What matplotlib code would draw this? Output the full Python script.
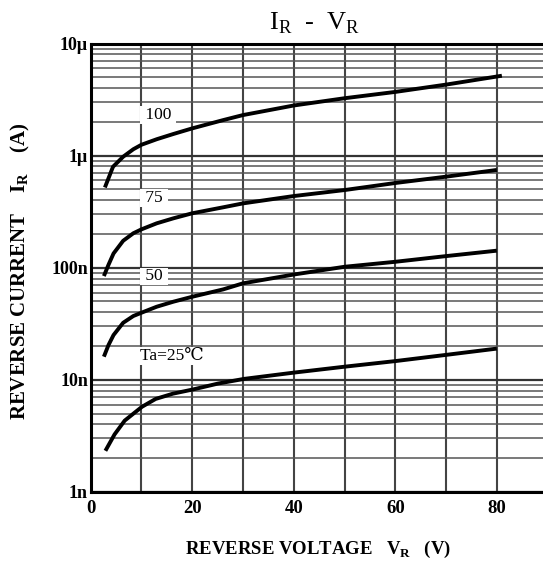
import numpy as np
import matplotlib
matplotlib.use("Agg")
import matplotlib.pyplot as plt
from matplotlib.ticker import FixedLocator, LogLocator, NullFormatter

plt.rcParams['font.family'] = ['Liberation Serif', 'DejaVu Serif']
plt.rcParams['mathtext.fontset'] = 'custom'
plt.rcParams['mathtext.rm'] = 'Liberation Serif'
plt.rcParams['mathtext.bf'] = 'Liberation Serif:bold'

# curves: reverse voltage (V) vs reverse current (A)
v_100 = [2.8, 4.4, 6.4, 8.4, 10, 13, 16.3, 20, 26.2, 30, 40, 50, 60, 70, 81]
i_100 = [5.2e-7, 7.96e-7, 9.78e-7, 1.14e-6, 1.25e-6, 1.40e-6, 1.56e-6, 1.75e-6,
         2.08e-6, 2.3e-6, 2.8e-6, 3.25e-6, 3.7e-6, 4.3e-6, 5.16e-6]

v_75 = [2.6, 3.5, 4.5, 6.4, 8.4, 10, 13, 16.3, 20, 26.1, 30, 40, 50, 60, 70, 80]
i_75 = [8.43e-8, 1.06e-7, 1.34e-7, 1.74e-7, 2.03e-7, 2.2e-7, 2.49e-7, 2.76e-7,
        3.06e-7, 3.46e-7, 3.75e-7, 4.36e-7, 4.93e-7, 5.7e-7, 6.49e-7, 7.45e-7]

v_50 = [2.6, 3.5, 4.5, 6.4, 8.4, 10, 13, 16.3, 20, 26.1, 30, 40, 50, 60, 70, 80]
i_50 = [1.61e-8, 2.04e-8, 2.51e-8, 3.23e-8, 3.71e-8, 3.97e-8, 4.49e-8, 4.98e-8,
        5.51e-8, 6.41e-8, 7.26e-8, 8.7e-8, 1.02e-7, 1.13e-7, 1.27e-7, 1.42e-7]

v_25 = [2.9, 4.7, 6.7, 10.1, 12.8, 16.2, 20.1, 25.1, 30.2, 40, 50, 60, 70, 80]
i_25 = [2.33e-9, 3.26e-9, 4.33e-9, 5.75e-9, 6.76e-9, 7.53e-9, 8.2e-9, 9.27e-9,
        1.02e-8, 1.16e-8, 1.31e-8, 1.47e-8, 1.67e-8, 1.9e-8]

curve_labels = ["100", "75", "50", "Ta=25\u2103"]
label_pos = [(13.3, 2.3e-6), (12.5, 4.2e-7), (12.5, 8.4e-8), (16.0, 1.63e-8)]

y_ticks = [1e-9, 1e-8, 1e-7, 1e-6, 1e-5]
y_ticklabels = ["1n", "10n", "100n", "1\u03bc", "10\u03bc"]
x_ticks = [0, 20, 40, 60, 80]

fig = plt.figure(figsize=(5.43, 5.71), dpi=100)
ax = fig.add_axes([0.167, 0.1384, 0.833, 0.7854])

ax.set_yscale("log")
ax.set_xlim(0, 89.1)
ax.set_ylim(1e-9, 1e-5)

# grid like the datasheet paper
ax.yaxis.set_minor_locator(LogLocator(base=10, subs=np.arange(2, 10)))
ax.yaxis.set_minor_formatter(NullFormatter())
ax.xaxis.set_minor_locator(FixedLocator(np.arange(10, 90, 20)))
ax.grid(True, which="major", axis="y", color="#333333", lw=1.6)
ax.grid(True, which="minor", axis="y", color="#555555", lw=1.1)
ax.grid(True, which="both", axis="x", color="#444444", lw=1.5)

for v, i in [(v_100, i_100), (v_75, i_75), (v_50, i_50), (v_25, i_25)]:
    ax.plot(v, i, color="black", lw=2.8, solid_capstyle="butt", zorder=4)

for text, (x, y) in zip(curve_labels, label_pos):
    ax.text(x, y, " " + text + " ", ha="center", va="center", fontsize=12.5, zorder=5,
            bbox=dict(facecolor="white", edgecolor="none", pad=0.5))

ax.set_yticks(y_ticks)
ax.set_yticklabels(y_ticklabels, fontsize=13, fontweight="bold")
ax.set_xticks(x_ticks)
ax.set_xticklabels([str(x) for x in x_ticks], fontsize=13.5, fontweight="bold")
ax.tick_params(axis="y", which="both", length=0, pad=2)
ax.tick_params(axis="x", which="both", length=0, pad=6)

for s in ["left", "top", "bottom"]:
    ax.spines[s].set_linewidth(2.2)
ax.spines["right"].set_visible(False)

fig.text(0.58, 0.949, r"I$_{\rm R}$  -  V$_{\rm R}$", ha="center", va="baseline", fontsize=19)
fig.text(0.586, 0.037, r"REVERSE VOLTAGE   V$_{\bf R}$   (V)", ha="center", va="center",
         fontsize=13.5, fontweight="bold")
fig.text(0.037, 0.525, r"REVERSE CURRENT    I$_{\bf R}$    (A)", ha="center", va="center",
         rotation=90, fontsize=15, fontweight="bold")

fig.savefig("out.png", dpi=100)
